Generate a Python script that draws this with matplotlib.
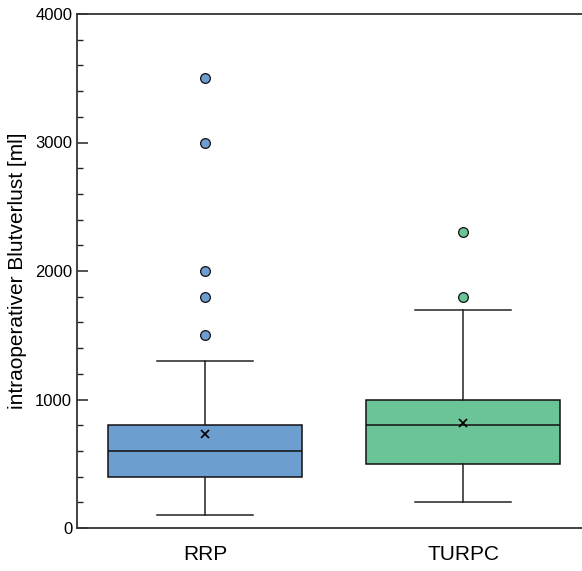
import matplotlib
matplotlib.use('Agg')
import matplotlib.pyplot as plt
from matplotlib.ticker import MultipleLocator

plt.rcParams['font.family'] = ['Liberation Sans', 'DejaVu Sans']

groups = ['RRP', 'TURPC']
whislo = [100, 200]
q1 = [400, 500]
med = [600, 800]
q3 = [800, 1000]
whishi = [1300, 1700]
means = [730, 815]
fliers = [[1500, 1800, 2000, 3000, 3500], [1800, 2300]]
colors = ['#6c9ecf', '#6bc497']

stats = []
for i, g in enumerate(groups):
    stats.append(dict(label=g, whislo=whislo[i], q1=q1[i], med=med[i], q3=q3[i],
                      whishi=whishi[i], mean=means[i], fliers=fliers[i]))

fig = plt.figure(figsize=(5.82, 5.71), dpi=100)
ax = fig.add_axes([77 / 582, 43 / 571, 1 - 77 / 582, (528 - 14) / 571])

lw = 1.1
bp = ax.bxp(stats, positions=[1, 2], widths=0.75, patch_artist=True, showmeans=True,
            meanprops=dict(marker='x', markeredgecolor='black', markersize=6, markeredgewidth=1.2),
            medianprops=dict(color='#111111', linewidth=lw),
            whiskerprops=dict(color='#222222', linewidth=lw),
            capprops=dict(color='#222222', linewidth=lw),
            boxprops=dict(edgecolor='#111111', linewidth=lw))
for patch, c in zip(bp['boxes'], colors):
    patch.set_facecolor(c)
for fl, c in zip(bp['fliers'], colors):
    fl.set(marker='o', markerfacecolor=c, markeredgecolor='#111111', markersize=7, markeredgewidth=0.9)
for cap in bp['caps']:
    x = cap.get_xdata()
    mid = (x[0] + x[1]) / 2
    cap.set_xdata([mid - 0.1875, mid + 0.1875])

ax.set_xlim(0.504, 2.461)
ax.set_ylim(0, 4000)
ax.yaxis.set_major_locator(MultipleLocator(1000))
ax.yaxis.set_minor_locator(MultipleLocator(200))
ax.tick_params(axis='y', which='major', direction='in', length=8, width=1.1, labelsize=12, color='#222222')
ax.tick_params(axis='y', which='minor', direction='in', length=4, width=1.0, color='#222222')
ax.tick_params(axis='x', length=0, labelsize=15, pad=12)
ax.spines['right'].set_visible(False)
for s in ['left', 'top', 'bottom']:
    ax.spines[s].set_linewidth(1.3)
    ax.spines[s].set_color('#333333')
ax.set_ylabel('intraoperativer Blutverlust [ml]', fontsize=15, labelpad=6)

fig.savefig('out.png', dpi=100)
